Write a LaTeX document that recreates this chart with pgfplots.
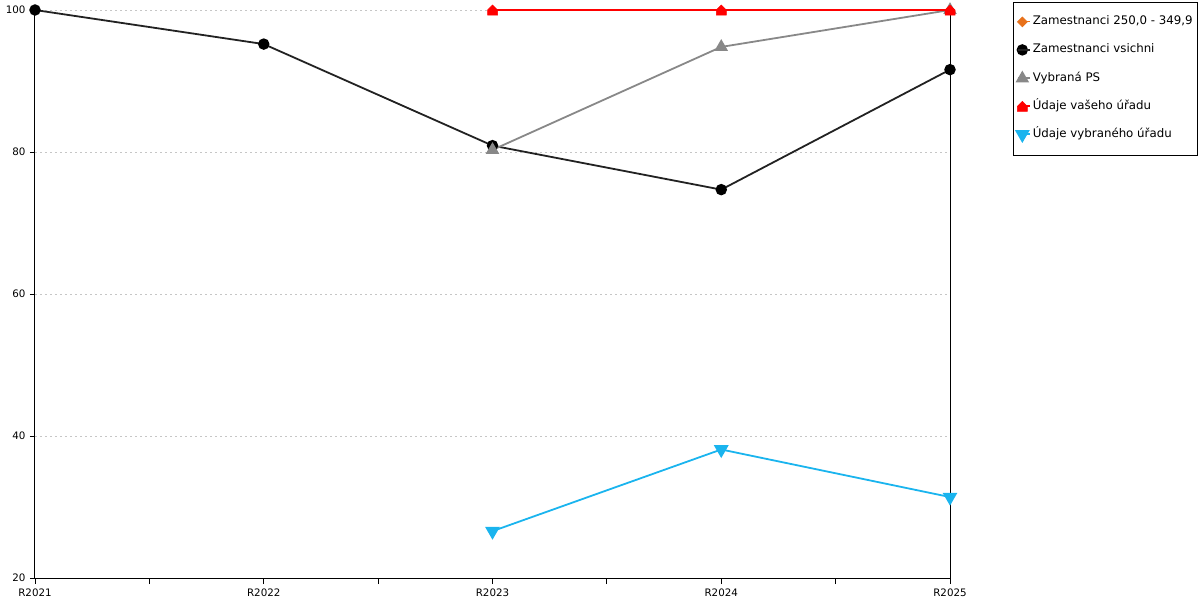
\documentclass[border=0pt]{standalone}
\usepackage{fontspec}
\setmainfont{DejaVu Sans}
\usepackage{pgfplots}
\pgfplotsset{compat=1.18}
\definecolor{cblack}{HTML}{222222}
\definecolor{cgray}{HTML}{888888}
\definecolor{cred}{HTML}{FF0000}
\definecolor{cblue}{HTML}{1AB4EE}
\definecolor{corange}{HTML}{E8711A}
\pgfdeclareplotmark{house}{%
  \pgfpathmoveto{\pgfqpoint{-\pgfplotmarksize}{-\pgfplotmarksize}}%
  \pgfpathlineto{\pgfqpoint{\pgfplotmarksize}{-\pgfplotmarksize}}%
  \pgfpathlineto{\pgfqpoint{\pgfplotmarksize}{0pt}}%
  \pgfpathlineto{\pgfqpoint{0pt}{\pgfplotmarksize}}%
  \pgfpathlineto{\pgfqpoint{-\pgfplotmarksize}{0pt}}%
  \pgfpathclose
  \pgfusepathqfillstroke}
\begin{document}
\begin{tikzpicture}
\path[use as bounding box] (-35pt,-22pt) rectangle (1165pt,578pt);
\begin{axis}[
  at={(0pt,0pt)}, anchor=origin,
  scale only axis, width=915pt, height=568pt,
  xmin=0, xmax=4, ymin=20, ymax=100,
  xtick={0,1,2,3,4},
  xticklabels={R2021,R2022,R2023,R2024,R2025},
  minor xtick={0.5,1.5,2.5,3.5},
  ytick={20,40,60,80,100},
  axis x line*=bottom, axis y line*=left,
  axis line style={-, black, line width=1pt},
  tick align=outside,
  major tick length=6pt, minor tick length=6pt,
  xtick style={black, line width=0.8pt},
  minor tick style={black, line width=0.8pt},
  ytick style={black, line width=0.8pt, /pgfplots/major tick length=5pt},
  ymajorgrids, grid style={dash pattern=on 2pt off 3pt, gray!45, line width=0.7pt},
  tick label style={font=\fontsize{10.3}{12}\selectfont},
  /pgf/number format/assume math mode=true,
  xticklabel style={yshift=-1pt},
  clip=false,
  legend cell align=left,
  legend style={at={(1.0689,1.0141)}, anchor=north west,
    font=\fontsize{11.8}{13}\selectfont, draw=black, line width=0.8pt,
    inner xsep=3pt, inner ysep=14pt, row sep=17pt,
    nodes={inner xsep=2pt, inner ysep=0pt, text height=8.5pt, text depth=2.5pt}},
  legend image code/.code={\draw[#1,only marks] plot coordinates {(0.16cm,0cm)};
     \path (0cm,0cm) -- (0.42cm,0cm);},
]
\addlegendimage{only marks, mark=square*, color=corange, mark size=3.4pt, mark options={rotate=45}}
\addlegendentry{Zamestnanci 250,0 - 349,9}
\addplot[color=cblack, line width=1.8pt, mark=*, mark size=4.8pt, mark options={fill=black, draw=black}]
  coordinates {(0,100) (1,95.2) (2,80.9) (3,74.7) (4,91.6)};
\addlegendentry{Zamestnanci vsichni}
\addplot[color=cgray, line width=1.8pt, mark=triangle*, mark size=6pt, mark options={fill=cgray, draw=cgray}]
  coordinates {(2,80.3) (3,94.8) (4,100)};
\addlegendentry{Vybraná PS}
\addplot[color=cred, line width=2.2pt, mark=house, mark size=5pt, mark options={fill=cred, draw=cred, line width=0.5pt}]
  coordinates {(2,100) (3,100) (4,100)};
\addlegendentry{Údaje vašeho úřadu}
\addplot[color=cblue, line width=1.8pt, mark=triangle*, mark size=6.8pt, mark options={fill=cblue, draw=cblue, rotate=180}]
  coordinates {(2,26.6) (3,38.1) (4,31.4)};
\addlegendentry{Údaje vybraného úřadu}
\draw[black, line width=1pt] (rel axis cs:1,0) -- (rel axis cs:1,1);
\end{axis}
\end{tikzpicture}
\end{document}
